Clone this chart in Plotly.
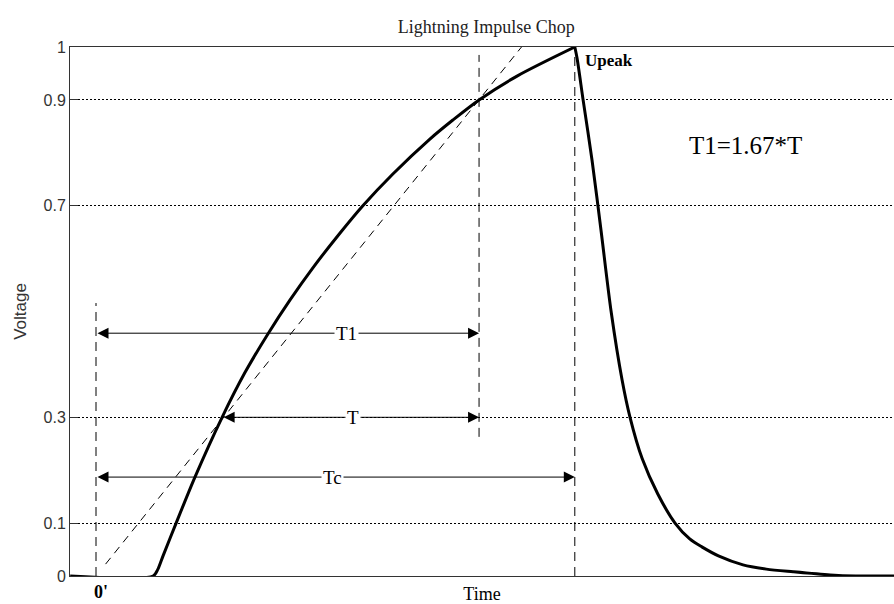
import plotly.graph_objects as go

# Chopped lightning impulse waveform (time in µs, voltage in per-unit of Upeak)
# Front of the wave, up to the chopping instant
rise_t = [-0.081, 0.179, 0.194, 0.210, 0.251, 0.310, 0.395, 0.467, 0.539, 0.608,
          0.680, 0.764, 0.836, 0.930, 1.046, 1.118, 1.200, 1.319, 1.500]
rise_v = [0.0, 0.0, 0.013, 0.038, 0.100, 0.187, 0.300, 0.385, 0.458, 0.522,
          0.583, 0.648, 0.700, 0.760, 0.826, 0.862, 0.900, 0.945, 1.000]
# Collapse after the chop
fall_t = [1.500, 1.507, 1.526, 1.554, 1.582, 1.614, 1.648, 1.673, 1.711, 1.760,
          1.814, 1.860, 1.898, 1.950, 2.027, 2.100, 2.184, 2.300, 2.380, 2.500]
fall_v = [1.000, 0.979, 0.900, 0.786, 0.654, 0.499, 0.371, 0.300, 0.222, 0.155,
          0.100, 0.070, 0.055, 0.038, 0.021, 0.013, 0.008, 0.002, 0.0, 0.0]

# Virtual front line through the 30 % and 90 % points (crosses zero at origin 0')
front_t = [0.03, 1.333]
front_v = [0.0225, 1.0]

# Reference levels shown on the voltage axis
y_ticks = [0, 0.1, 0.3, 0.7, 0.9, 1]
y_tick_text = ["0", "0.1", "0.3", "0.7", "0.9", "1"]

# Time markers
t_origin = 0.0      # virtual origin 0'
t_30 = 0.395        # 30 % crossing
t_90 = 1.2          # 90 % crossing (end of T1)
t_chop = 1.5        # time to chopping Tc

# Marker line extents (voltage)
origin_marker = [0.0, 0.516]
t90_marker = [0.263, 0.985]
chop_marker = [0.0, 0.985]

# Dimension arrows: (label, start, end, level, label position)
dims = [
    ("T1", t_origin, t_90, 0.459, 0.786),
    ("T", t_30, t_90, 0.300, 0.805),
    ("Tc", t_origin, t_chop, 0.187, 0.742),
]

x_range = [-0.0815, 2.5]

serif = "Liberation Serif, Times New Roman, serif"
sans = "Liberation Sans, Arial, sans-serif"

fig = go.Figure()

fig.add_trace(go.Scatter(x=front_t, y=front_v, mode="lines",
                         line=dict(color="black", width=1, dash="8px,6px"),
                         hoverinfo="skip", showlegend=False))

for tx, (v0, v1) in [(t_origin, origin_marker), (t_90, t90_marker), (t_chop, chop_marker)]:
    fig.add_trace(go.Scatter(x=[tx, tx], y=[v0, v1], mode="lines",
                             line=dict(color="black", width=1, dash="9px,6px"),
                             hoverinfo="skip", showlegend=False))

for xs, ys in [(rise_t, rise_v), (fall_t, fall_v)]:
    fig.add_trace(go.Scatter(x=xs, y=ys, mode="lines",
                             line=dict(color="black", width=3, shape="spline",
                                       smoothing=0.8),
                             cliponaxis=False, showlegend=False))

annotations = []
for label, t0, t1, lvl, tl in dims:
    annotations.append(dict(x=t1, y=lvl, ax=t0, ay=lvl, xref="x", yref="y",
                            axref="x", ayref="y", text="", showarrow=True,
                            arrowhead=2, arrowside="end+start", arrowsize=2.2,
                            arrowwidth=1, arrowcolor="black", standoff=0,
                            startstandoff=0))
    annotations.append(dict(x=tl, y=lvl, xref="x", yref="y", text=label,
                            showarrow=False, bgcolor="white", borderpad=1,
                            font=dict(family=serif, size=19, color="black")))

annotations += [
    dict(x=1.525, y=0.975, xref="x", yref="y", text="<b>Upeak</b>", showarrow=False,
         xanchor="left", font=dict(family=serif, size=17, color="black")),
    dict(x=2.035, y=0.814, xref="x", yref="y", text="T1=1.67*T", showarrow=False,
         font=dict(family=serif, size=25, color="black")),
    dict(x=(t_origin - 0.008 - x_range[0]) / (x_range[1] - x_range[0]), y=-0.051,
         xref="paper", yref="paper", yanchor="bottom", borderpad=0, text="<b>0'</b>",
         showarrow=False, font=dict(family=serif, size=18, color="black")),
]

fig.update_layout(
    width=894, height=604,
    margin=dict(l=70, r=0, t=47, b=28, autoexpand=False),
    paper_bgcolor="white", plot_bgcolor="white",
    title=dict(text="Lightning Impulse Chop", x=0.544, xanchor="center",
               y=1 - 27 / 604, yanchor="middle",
               font=dict(family=serif, size=18, color="#222")),
    xaxis=dict(range=x_range, showgrid=False, zeroline=False,
               showticklabels=False, ticks="", showline=True, mirror=True,
               linecolor="#333", linewidth=1,
               title=dict(text="Time", standoff=12,
                          font=dict(family=serif, size=18, color="black"))),
    yaxis=dict(range=[0, 1], tickvals=y_ticks, ticktext=y_tick_text,
               showgrid=True, gridcolor="black", gridwidth=1, griddash="2px,2px",
               zeroline=False, showline=True, linecolor="#333", linewidth=1,
               ticks="inside", ticklen=8, tickcolor="#333",
               tickfont=dict(family=sans, size=16, color="#333"),
               title=dict(text="Voltage", standoff=12,
                          font=dict(family=sans, size=17, color="#333"))),
    annotations=annotations,
    showlegend=False,
)

fig.write_html("out.html")
